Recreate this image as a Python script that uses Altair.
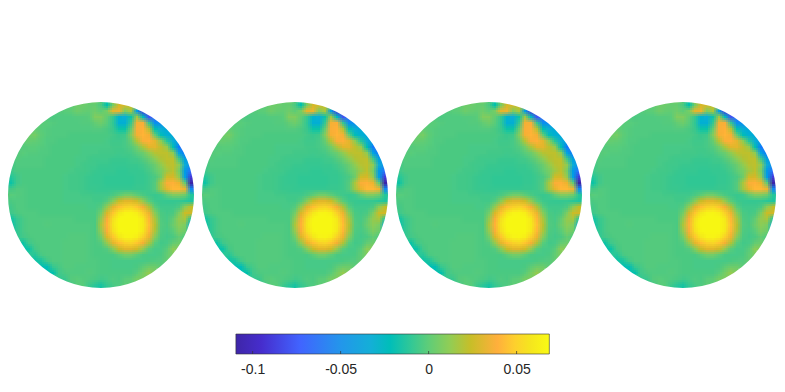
import altair as alt
import pandas as pd

# Disk values in thousandths above the baseline, one list per row (top to bottom), each centred on the disk axis.
baseline = -0.004
disk_rows = [
 [5,8,10,5,-12,20,30],
 [3,4,8,8,6,6,0,-14,10,32,32,28,10],
 [2,2,3,4,8,6,5,8,4,10,36,38,12,22,-40,-85,-85],
 [1,0,1,1,1,2,2,3,12,12,5,-5,-25,-30,-12,20,-20,-75,-65],
 [3,3,3,2,1,1,1,1,2,2,5,8,3,-6,-28,-28,-5,40,42,-5,-50,-50,-40],
 [8,5,3,2,1,1,1,1,1,1,1,2,2,0,-4,-12,-12,6,42,44,24,-15,-30,-32,-30],
 [8,10,4,2,1,1,1,0,0,0,0,0,0,0,-2,-4,-3,13,40,45,40,5,-18,-28,-32],
 [5,6,5,3,1,1,0,0,0,0,0,0,0,0,-1,-3,-3,-1,6,24,42,44,36,16,-8,-30,-40],
 [2,2,3,3,2,1,0,0,0,0,0,-1,-1,-1,-1,-1,-2,-2,-1,2,9,22,35,36,26,17,-15,-60,-70],
 [2,3,2,2,1,1,0,0,0,0,0,-1,-1,-1,-2,-2,-2,-3,-2,-1,3,7,16,24,26,26,16,-35,-60],
 [0,2,1,1,1,1,0,0,0,0,0,-1,-1,-2,-3,-3,-3,-4,-4,-4,-3,-2,2,7,15,23,26,26,-2,-38,-45],
 [-2,1,1,1,1,1,0,0,0,0,0,-1,-2,-3,-3,-4,-4,-5,-5,-5,-4,-4,-2,2,7,16,24,26,16,-30,-50],
 [-3,0,0,0,0,0,0,0,0,0,-1,-2,-2,-3,-4,-5,-5,-5,-6,-6,-5,-5,-4,-1,4,10,20,26,10,-42,-65],
 [-6,-8,-3,0,0,0,0,0,0,0,-1,-2,-2,-3,-4,-5,-5,-6,-6,-6,-6,-6,-5,-5,-3,0,8,30,32,17,-40,-85,-95],
 [-8,-12,-3,0,0,0,0,0,0,0,-1,-2,-2,-3,-4,-5,-5,-6,-6,-6,-6,-6,-5,-5,-3,2,22,42,44,38,5,-105,-105],
 [-2,-2,1,1,0,0,0,0,0,0,-1,-2,-2,-3,-4,-4,-5,-5,-5,-5,-5,-5,-4,-4,-3,2,20,36,46,46,38,-50,-70],
 [2,3,2,1,0,0,0,0,0,0,-1,-1,-1,-2,-2,-3,-3,-3,0,4,9,9,4,0,-3,-4,-3,5,12,12,8,-8,-8],
 [0,0,1,1,0,0,0,0,0,0,-1,-1,-1,-1,-1,-2,-2,2,14,28,35,35,30,17,3,-3,-4,-5,-5,-5,-7,-9,-9],
 [0,-2,1,1,0,0,0,0,0,0,0,0,0,0,-1,-1,2,17,36,48,54,56,50,40,23,3,-3,-3,-3,0,15,27,27],
 [-2,-3,0,1,1,1,0,0,0,0,0,0,0,0,0,0,9,33,50,64,70,71,68,54,38,14,0,-2,0,11,29,31,23],
 [-12,-5,-1,1,1,1,1,1,1,1,1,0,0,0,0,17,42,60,71,73,73,73,64,46,22,1,-1,5,17,21,-8],
 [-13,-6,-1,1,1,1,2,1,1,1,1,1,1,1,0,22,44,62,73,73,73,73,66,48,25,2,0,7,15,11,-30],
 [-10,-6,-1,1,1,1,1,1,1,1,1,1,1,1,0,17,42,60,71,73,73,73,64,46,22,1,-1,3,11,8,-15],
 [-6,-2,0,1,1,1,1,1,1,2,2,2,1,0,9,33,50,64,70,71,68,54,38,14,0,-2,0,5,1],
 [-8,-12,-3,0,1,1,1,1,2,2,2,2,1,0,2,17,36,48,54,56,50,40,23,3,-2,-1,5,8,3],
 [-14,-12,-2,1,1,1,1,2,2,2,2,1,0,0,2,14,28,35,35,30,17,3,-1,-1,3,15,13],
 [-6,-8,-1,1,1,1,2,2,2,2,1,0,0,0,0,4,9,9,4,0,-1,-1,0,5,11],
 [-10,-12,-10,-3,1,1,2,2,2,2,1,1,0,0,-1,-1,-1,-1,-1,-1,0,1,2,6,8],
 [-10,-16,-18,-5,-1,2,2,1,1,1,1,0,0,-1,-1,-1,-1,0,4,8,8,4,2],
 [-16,-14,-3,0,1,1,1,2,1,0,0,0,0,0,0,3,10,17,12],
 [-2,-5,-4,2,3,2,1,0,-2,-1,1,0,3,4,10,12,10],
 [-6,-1,3,3,-3,-7,-10,-5,-1,1,4,5,8],
 [0,-4,-10,-12,-8,-2,0],
]

# Colour scale
color_values = [-0.1095,-0.095,-0.073,-0.05,-0.033,-0.022,-0.010,0.0,0.012,0.024,0.039,0.049,0.058,0.0686]
color_range = ["#3e26a8","#462dcd","#4164ff","#2396eb","#14afd7","#00beb9","#32c896",
               "#5fcd78","#91cd55","#c8be28","#ffaf3c","#fdd02d","#f5e61e","#fafa14"]

tick_values = [-0.1,-0.05,0,0.05]
bar_range = [-0.1095,0.0686]
axis_range = [-0.239,0.1974]

half = (len(disk_rows)-1)//2
records = []
for i,row in enumerate(disk_rows):
    h = (len(row)-1)//2
    for j,v in enumerate(row):
        c = j-h; r = i-half
        records.append({"x0":c-0.5,"x1":c+0.5,"y0":r-0.5,"y1":r+0.5,"v":v/1000+baseline})
df = pd.DataFrame(records)

xs = alt.Scale(domain=[-15.5,15.5],nice=False,zero=False)
ys = alt.Scale(domain=[15.5,-15.5],nice=False,zero=False)
cs = alt.Scale(domain=color_values,range=color_range,clamp=True)

def cells(dx,dy,op):
    return alt.Chart(df).mark_rect(opacity=op,xOffset=dx,x2Offset=dx,yOffset=dy,y2Offset=dy,clip=True).encode(
        x=alt.X("x0:Q",scale=xs,axis=None),x2="x1:Q",
        y=alt.Y("y0:Q",scale=ys,axis=None),y2="y1:Q",
        color=alt.Color("v:Q",scale=cs,legend=None))

# White mask around the disk: inner edge at the disk radius, clipped to the panel
ring = alt.Chart(pd.DataFrame({"x":[0],"y":[0]})).mark_point(
    filled=False,stroke="white",strokeWidth=42,size=(2*(93+21))**2,opacity=1,shape="circle",clip=True).encode(
    x=alt.X("x:Q",scale=xs,axis=None),y=alt.Y("y:Q",scale=ys,axis=None))

shifts = [-2,0,2]
def disk():
    layers = []
    k = 1
    for dy in shifts:
        for dx in shifts:
            layers.append(cells(dx,dy,1/k))
            k += 1
    return alt.layer(*layers,ring).properties(width=186,height=186)

stops = [alt.GradientStop(offset=(v-bar_range[0])/(bar_range[1]-bar_range[0]),color=c) for v,c in zip(color_values,color_range)]
bxs = alt.Scale(domain=axis_range,nice=False,zero=False)
bar = alt.Chart(pd.DataFrame({"a":[bar_range[0]],"b":[bar_range[1]]})).mark_rect(
    fill=alt.LinearGradient(gradient="linear",stops=stops,x1=0,x2=1,y1=0,y2=0),
    stroke="#333333",strokeWidth=0.6).encode(
    x=alt.X("a:Q",scale=bxs,axis=alt.Axis(values=tick_values,title=None,domain=False,ticks=False,grid=False,
        labelFont="Liberation Sans",labelFontSize=14,labelColor="#262626",labelPadding=8,
        labelExpr="replace(format(datum.value,'~g'),'−','-')")),
    x2="b:Q",y=alt.value(0),y2=alt.value(20))
marks = alt.Chart(pd.DataFrame({"t":tick_values})).mark_rule(color="#333333",strokeWidth=0.7).encode(
    x=alt.X("t:Q",scale=bxs),y=alt.value(17),y2=alt.value(20))
bar_panel = alt.layer(bar,marks).properties(width=768,height=20)

chart = alt.vconcat(
    alt.hconcat(disk(),disk(),disk(),disk(),spacing=8),
    bar_panel,spacing=45
).properties(padding={"left":0,"top":94,"right":0,"bottom":0}).configure_view(stroke=None)

chart.save("out.html",embed_options={"renderer":"svg","actions":False})
